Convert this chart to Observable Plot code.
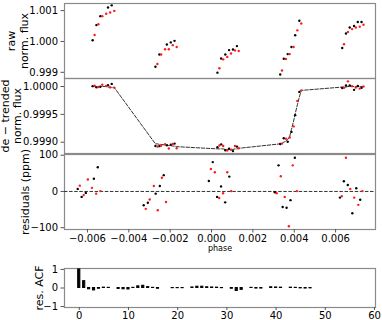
<!DOCTYPE html>
<html>
<head>
<meta charset="utf-8">
<script src="https://cdn.jsdelivr.net/npm/d3@7"></script>
<script src="https://cdn.jsdelivr.net/npm/@observablehq/plot@0.6"></script>
<style>
  html, body { margin: 0; padding: 0; background: #fff; }
  #wrap { position: relative; width: 382px; height: 320px; overflow: hidden; font-family: "DejaVu Sans", sans-serif; }
  #wrap > svg { position: absolute; left: 0; }
</style>
</head>
<body>
<div id="wrap"></div>
<script>
// ---- Instrument 1 (black) ----
const blackPhase = [-0.00647, -0.00628, -0.00608, -0.00569, -0.00550,
  -0.00328, -0.00308, -0.00270, -0.00250, -0.00231,
  -0.00013, 0.00006, 0.00027, 0.00046, 0.00066, 0.00086,
  0.00306, 0.00324, 0.00344, 0.00363, 0.00382, 0.00403,
  0.00621, 0.00640, 0.00659, 0.00681, 0.00700, 0.00719];
const blackRaw = [1.00004, 1.00053, 1.00082, 1.00110, 1.00117,
  0.99918, 0.99958, 0.99990, 0.99997, 1.00002,
  0.99899, 0.99945, 0.99958, 0.99972, 0.99974, 0.99985,
  0.99893, 0.99944, 0.99959, 0.99982, 1.00020, 1.00067,
  0.99979, 1.00026, 1.00045, 1.00050, 1.00063, 1.00063];
const blackModel = [1.00000, 1.00000, 1.00000, 0.99999, 0.99998,
  0.99897, 0.99896, 0.99895, 0.99894, 0.99893,
  0.99888, 0.99888, 0.99887, 0.99887, 0.99887, 0.99888,
  0.99897, 0.99900, 0.99905, 0.99923, 0.99951, 0.99981,
  0.99999, 0.99999, 1.00000, 1.00000, 1.00000, 1.00000];
const blackResid = [7, -15, -4, 35, 67,
  -38, -31, -6, 15, 45,
  29, 81, -15, 14, -30, 41,
  -2, 72, -43, -45, -24, 93,
  -17, 28, 18, -60, 9, -23];

// ---- Instrument 2 (red) ----
const redPhase = [-0.00637, -0.00618, -0.00598, -0.00578, -0.00558, -0.00537,
  -0.00318, -0.00299, -0.00279, -0.00260, -0.00240, -0.00220,
  -0.00003, 0.00016, 0.00037, 0.00056, 0.00076, 0.00095,
  0.00315, 0.00335, 0.00354, 0.00374, 0.00393, 0.00413,
  0.00630, 0.00650, 0.00671, 0.00690, 0.00710, 0.00729];
const redRaw = [1.00021, 1.00056, 1.00082, 1.00090, 1.00094, 1.00099,
  0.99927, 0.99958, 0.99975, 0.99975, 0.99988, 0.99982,
  0.99913, 0.99942, 0.99950, 0.99961, 0.99971, 0.99969,
  0.99906, 0.99943, 0.99959, 0.99982, 1.00036, 1.00058,
  0.99991, 1.00031, 1.00040, 1.00045, 1.00048, 1.00054];
const redModel = [1.00000, 1.00000, 1.00000, 1.00000, 0.99999, 0.99998,
  0.99897, 0.99896, 0.99895, 0.99894, 0.99893, 0.99892,
  0.99888, 0.99888, 0.99887, 0.99887, 0.99888, 0.99889,
  0.99898, 0.99902, 0.99910, 0.99938, 0.99967, 0.99993,
  0.99999, 1.00000, 1.00000, 1.00000, 1.00000, 1.00000];
const redResid = [16, -10, 33, 10, -6, 1,
  -48, -22, 15, -52, 38, -29,
  62, 53, -18, -5, 53, 1,
  -5, 42, -15, -96, 72, 1,
  -13, 93, 7, -17, -37, 1];

// ---- Residual autocorrelation (lag = index) ----
const acfValues = [1.0, 0.37, -0.07, -0.13, -0.04, 0.02, 0.01, 0.0, -0.05, -0.07,
  -0.08, 0.01, 0.09, 0.12, 0.05, 0.01, -0.04, 0.0, 0.0, -0.01,
  -0.01, -0.01, 0.0, 0.03, 0.07, 0.07, 0.04, 0.03, 0.02, -0.01,
  0.0, -0.04, -0.16, -0.10, 0.0, 0.01, -0.03, -0.03, 0.0, 0.04,
  0.03, 0.02, 0.0, 0.02, 0.01, -0.02, -0.03, -0.02, 0.0, 0.0,
  0.0, 0.0, 0.0, 0.0, 0.0, 0.0, 0.0, 0.0];

// tick labels
const rawTicks = [0.999, 1.000, 1.001];
const detTicks = [0.9990, 0.9995, 1.0000];
const resTicks = [-100, 0, 100];
const phaseTicks = [-0.006, -0.004, -0.002, 0.000, 0.002, 0.004, 0.006];
const acfYTicks = [-1, 0, 1];
const lagTicks = [0, 10, 20, 30, 40, 50, 60];

const mk = (ph, raw, model, resid) => ph.map((p, i) => ({
  phase: p, raw: raw[i], model: model[i], resid: resid[i],
  det: model[i] + resid[i] * 1e-6
}));
const black = mk(blackPhase, blackRaw, blackModel, blackResid);
const red = mk(redPhase, redRaw, redModel, redResid);
const modelAll = black.concat(red);
const acf = acfValues.map((v, i) => ({lag: i, v}));

const W = 382, ML = 64, MR = 7;
const style = {fontFamily: "DejaVu Sans, sans-serif", fontSize: "10px", background: "transparent", color: "black", overflow: "visible"};
const frame = () => Plot.frame({stroke: "#8a8a8a", strokeWidth: 1.2});
const yAxis = (ticks, fmt) => Plot.axisY({ticks, tickFormat: fmt, tickSize: 3.5, tickPadding: 3, label: null, stroke: "#555"});
const title = (t, dx, lh = 1.15) => Plot.text([t], {text: d => d, frameAnchor: "left", dx, rotate: -90,
  textAnchor: "middle", lineAnchor: "middle", fontSize: 11, lineHeight: lh, fill: "black"});
const topX = {domain: [-0.0079, 0.0079], axis: null};
const dotsB = (y) => Plot.dot(black, {x: "phase", y, r: 1.2, fill: "black"});
const dotsR = (y) => Plot.dot(red, {x: "phase", y, r: 1.2, fill: "#ff1a1a"});

const wrap = document.getElementById("wrap");
function place(svg, top) { svg.style.top = top + "px"; wrap.appendChild(svg); }

// Panel 1: raw
place(Plot.plot({
  width: W, height: 80, marginTop: 3, marginBottom: 2, marginLeft: ML, marginRight: MR, style,
  x: topX,
  y: {domain: [0.9988, 1.00123]},
  marks: [
    frame(),
    yAxis(rawTicks, d3.format(".3f")),
    dotsB("raw"), dotsR("raw"),
    title("raw\nnorm. flux", -47)
  ]
}), 0);

// Panel 2: de-trended
place(Plot.plot({
  width: W, height: 80, marginTop: 3, marginBottom: 2, marginLeft: ML, marginRight: MR, style,
  x: topX,
  y: {domain: [0.998797, 1.000144]},
  marks: [
    frame(),
    yAxis(detTicks, d3.format(".4f")),
    Plot.line(modelAll, {x: "phase", y: "model", sort: "phase", stroke: "#333", strokeWidth: 1, strokeDasharray: "3.5,1.6"}),
    dotsB("det"), dotsR("det"),
    title("de \u2212 trended\nnorm. flux", -53.5, 1.15)
  ]
}), 75);

// Panel 3: residuals
place(Plot.plot({
  width: W, height: 110, marginTop: 4, marginBottom: 31, marginLeft: ML, marginRight: MR, style,
  x: {domain: [-0.00711, 0.00793]},
  y: {domain: [-105, 102]},
  marks: [
    frame(),
    yAxis(resTicks, d3.format("d")),
    Plot.axisX({ticks: phaseTicks, tickFormat: d3.format(".3f"), tickSize: 3.5, tickPadding: 2, label: null, stroke: "#555"}),
    Plot.ruleY([0], {stroke: "#333", strokeWidth: 1, strokeDasharray: "3.5,1.6"}),
    dotsB("resid"), dotsR("resid"),
    title("residuals (ppm)", -40),
    Plot.text(["phase"], {text: d => d, frameAnchor: "bottom", dy: 21, fontSize: 8, fill: "black"})
  ]
}), 150);

// Panel 4: ACF
place(Plot.plot({
  width: W, height: 58, marginTop: 6, marginBottom: 13, marginLeft: ML, marginRight: MR, style,
  x: {domain: [-3, 60.2]},
  y: {domain: [-1.05, 1.05]},
  marks: [
    frame(),
    yAxis(acfYTicks, d3.format("d")),
    Plot.axisX({ticks: lagTicks, tickFormat: d3.format("d"), tickSize: 3, tickPadding: 1, label: null, stroke: "#555"}),
    Plot.rect(acf, {x1: d => d.lag - 0.22, x2: d => d.lag + 0.22, y1: d => 0, y2: "v",
      fill: d => d.lag >= 48 ? "#bbbbbb" : "black", stroke: d => d.lag >= 48 ? "#bbbbbb" : "black", strokeWidth: 1}),
    title("res. ACF", -26)
  ]
}), 262);
</script>
</body>
</html>
